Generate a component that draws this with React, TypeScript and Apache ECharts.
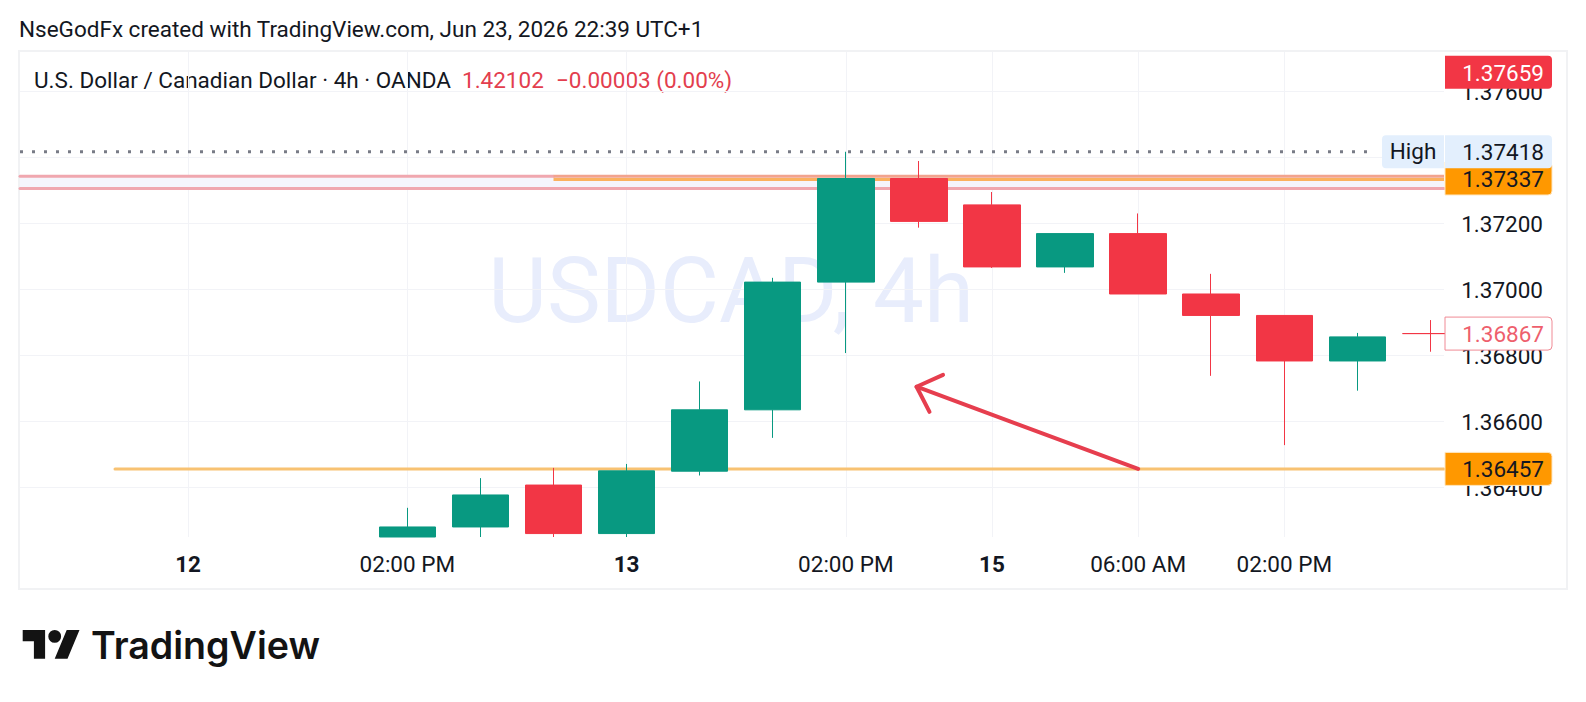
import React, { useEffect, useRef } from "react";
import * as echarts from "echarts";

const FONT = "Roboto";
const UP = "#089981";
const DOWN = "#f23645";
const LEGEND_RED = "#e33e4e";
const TEXT = "#131722";

const X_MIN = -5.3;
const X_MAX = 14.185;
const Y_MIN = 1.362506;
const Y_MAX = 1.377203;

// candle index on the x scale: 0 = first visible candle
const candleIndex = [0, 1, 2, 3, 4, 5, 6, 7, 8, 9, 10, 11, 12, 13, 14];
const opens = [Y_MIN, 1.36281, 1.36408, 1.36261, 1.3645, 1.36636, 1.37023, 1.37337, 1.37257, 1.37069, 1.3717, 1.36987, 1.36922, 1.36784, 1.36867];
const closes = [1.36281, 1.36378, 1.36261, 1.36451, 1.36636, 1.37023, 1.37337, 1.37207, 1.37069, 1.3717, 1.36987, 1.36922, 1.36784, 1.36857, 1.36867];
const lows = [Y_MIN, Y_MIN, Y_MIN, Y_MIN, 1.36437, 1.36551, 1.36808, 1.37188, 1.37066, 1.37051, 1.36987, 1.36739, 1.36529, 1.36694, 1.36812];
const highs = [1.36339, 1.36429, 1.3646, 1.36472, 1.36722, 1.37036, 1.37418, 1.3739, 1.37296, 1.3717, 1.37231, 1.37048, 1.36922, 1.36869, 1.36908];

const xTickValues = [-3, 0, 3, 6, 8, 10, 12];
const xTickLabels = ["12", "02:00 PM", "13", "02:00 PM", "15", "06:00 AM", "02:00 PM"];
const xBoldLabels = ["12", "13", "15"];
const yTickValues = [1.364, 1.366, 1.368, 1.37, 1.372, 1.374, 1.376];

const highLevel = 1.37418;
const highLineEnd = 13.24;
const resistanceUpper = 1.37344;
const resistanceLower = 1.37307;
const orangeTop = { from: 2, level: 1.37334 };
const orangeBottom = { from: -4, level: 1.36457 };
const arrowShaft = [[10, 1.36457], [6.968, 1.36706]];
const arrowHeadA = [[7.33, 1.36742], [6.968, 1.36706], [7.145, 1.3663]];

const tagValues = [1.37659, 1.37337, 1.36457, 1.36867, 1.37418];
const tagTexts = ["1.37659", "1.37337", "1.36457", "1.36867", "1.37418"];
const tagFills = [DOWN, "#ff9800", "#ff9800", "#ffffff", "#e3effd"];
const tagStrokes = ["none", "#ffe6bf", "#ffe6bf", "#f08a95", "none"];
const tagColors = ["#ffffff", TEXT, TEXT, "#ee5f6d", TEXT];

const LOGO_D = "M14 22H7V11H0V4h14v18zM28 22h-8l7.5-18h8L28 22zM24 8a4 4 0 1 1-8 0 4 4 0 0 1 8 0z";

export default function App() {
  const ref = useRef<HTMLDivElement>(null);
  useEffect(() => {
    document.body.style.margin = "0";
    document.body.style.background = "#ffffff";
    echarts.graphic.registerShape("tvlogo", echarts.graphic.extendPath(LOGO_D as any, {}) as any);
    const chart = echarts.init(ref.current!, undefined, { renderer: "svg" });
    const candleData = candleIndex.map((x, i) => {
      const doji = opens[i] === closes[i];
      return doji
        ? {
            value: [x, opens[i], closes[i], lows[i], highs[i]],
            itemStyle: { color: DOWN, color0: DOWN, borderColor: DOWN, borderColor0: DOWN, borderColorDoji: DOWN },
          }
        : { value: [x, opens[i], closes[i], lows[i], highs[i]] };
    });
    const lineSeries = (data: number[][], color: string, width: number, z: number, extra: any = {}) => ({
      type: "line",
      data,
      z,
      silent: true,
      showSymbol: false,
      symbol: "none",
      lineStyle: { color, width, cap: "round", join: "round", ...(extra.lineStyle || {}) },
      ...(extra.markArea ? { markArea: extra.markArea } : {}),
    });
    chart.setOption({
      animation: false,
      backgroundColor: "#ffffff",
      textStyle: { fontFamily: FONT },
      grid: { left: 20, top: 52, width: 1424, height: 485, containLabel: false },
      xAxis: {
        type: "value",
        min: X_MIN,
        max: X_MAX,
        axisLine: { show: false },
        axisTick: { show: false, customValues: xTickValues },
        splitLine: { show: true, lineStyle: { color: "#f2f3f7", width: 1 } },
        axisLabel: {
          customValues: xTickValues,
          margin: 15,
          fontFamily: FONT,
          fontSize: 22.5,
          color: TEXT,
          hideOverlap: false,
          showMinLabel: true,
          showMaxLabel: true,
          formatter: (v: number) => {
            const t = xTickLabels[xTickValues.indexOf(Math.round(v))] ?? "";
            return xBoldLabels.includes(t) ? `{b|${t}}` : t;
          },
          rich: { b: { fontFamily: FONT, fontSize: 22.5, fontWeight: 700, color: TEXT } },
        },
      },
      yAxis: {
        type: "value",
        position: "right",
        min: Y_MIN,
        max: Y_MAX,
        scale: true,
        axisLine: { show: false },
        axisTick: { show: false, customValues: yTickValues },
        splitLine: { show: true, lineStyle: { color: "#f2f3f7", width: 1 } },
        axisLabel: {
          customValues: yTickValues,
          inside: false,
          margin: 99,
          align: "right",
          padding: [2, 0, 0, 0],
          fontFamily: FONT,
          fontSize: 22.5,
          color: TEXT,
          formatter: (v: number) => v.toFixed(5),
        },
      },
      series: [
        lineSeries([[X_MIN, resistanceUpper], [orangeTop.from, resistanceUpper]], "#f0a7af", 3, 1, {
          markArea: {
            silent: true,
            itemStyle: { color: "#f5f5fc" },
            data: [[{ xAxis: X_MIN, yAxis: resistanceUpper }, { xAxis: X_MAX, yAxis: resistanceLower }]],
          },
        }),
        lineSeries([[X_MIN, resistanceLower], [X_MAX, resistanceLower]], "#f0a7af", 3, 1),
        lineSeries([[X_MIN, highLevel], [highLineEnd, highLevel]], "#787b86", 3, 1, {
          lineStyle: { type: [3, 9], cap: "butt" },
        }),
        lineSeries([[orangeTop.from, orangeTop.level], [X_MAX, orangeTop.level]], "#fbb15f", 3, 3, {
          lineStyle: { cap: "butt" },
        }),
        lineSeries([[orangeTop.from, resistanceUpper], [X_MAX, resistanceUpper]], "#f2a38e", 3, 3, {
          lineStyle: { cap: "butt" },
        }),
        lineSeries([[orangeBottom.from, orangeBottom.level], [X_MAX, orangeBottom.level]], "#f8c272", 3, 3),
        {
          type: "candlestick",
          z: 5,
          silent: true,
          clip: true,
          barWidth: 57,
          data: candleData,
          itemStyle: {
            color: UP,
            color0: DOWN,
            borderColor: UP,
            borderColor0: DOWN,
            borderWidth: 1,
          },
        },
        lineSeries(arrowShaft, "#e63e4e", 4, 6),
        lineSeries(arrowHeadA, "#e63e4e", 4, 6),
        {
          type: "custom",
          z: 10,
          silent: true,
          clip: false,
          coordinateSystem: "cartesian2d",
          encode: { x: 0, y: 1 },
          data: tagValues.map((v, i) => [X_MAX, v, i]),
          renderItem: (_p: any, api: any) => {
            const i = api.value(2);
            const c = api.coord([api.value(0), api.value(1)]);
            const h = 33;
            const children: any[] = [];
            if (tagTexts[i] === "1.37418") {
              children.push({
                type: "rect",
                shape: { x: 1382, y: c[1] - h / 2, width: 62, height: h, r: [4, 0, 0, 4] },
                style: { fill: tagFills[i] },
              });
              children.push({
                type: "text",
                style: {
                  text: "High",
                  x: 1413,
                  y: c[1] - 1,
                  fill: TEXT,
                  font: `22.5px ${FONT}`,
                  textAlign: "center",
                  textVerticalAlign: "middle",
                },
              });
            }
            children.push({
              type: "rect",
              shape: { x: 1445, y: c[1] - h / 2, width: 107, height: h, r: [0, 4, 4, 0] },
              style: { fill: tagFills[i], stroke: tagStrokes[i], lineWidth: 1 },
            });
            children.push({
              type: "text",
              style: {
                text: tagTexts[i],
                x: 1544,
                y: c[1] + 0.5,
                fill: tagColors[i],
                font: `22.5px ${FONT}`,
                textAlign: "right",
                textVerticalAlign: "middle",
              },
            });
            return { type: "group", children };
          },
        },
      ],
      graphic: [
        {
          type: "rect",
          z: -2,
          silent: true,
          shape: { x: 19, y: 51, width: 1548, height: 538 },
          style: { fill: "none", stroke: "#f1f2f4", lineWidth: 2 },
        },
        {
          type: "text",
          z: -1,
          x: 731,
          y: 291,
          style: {
            text: "USDCAD, 4h",
            font: `90.5px ${FONT}`,
            fill: "#e8edfc",
            textAlign: "center",
            textVerticalAlign: "middle",
          },
        },
        {
          type: "text",
          x: 19,
          y: 29,
          style: {
            text: "NseGodFx created with TradingView.com, Jun 23, 2026 22:39 UTC+1",
            font: `22.5px ${FONT}`,
            fill: TEXT,
            textVerticalAlign: "middle",
          },
        },
        {
          type: "text",
          x: 34,
          y: 80,
          style: {
            text: "U.S. Dollar / Canadian Dollar · 4h · OANDA",
            font: `22.5px ${FONT}`,
            fill: TEXT,
            textVerticalAlign: "middle",
          },
        },
        {
          type: "text",
          x: 462,
          y: 80,
          style: {
            text: "1.42102",
            font: `22.5px ${FONT}`,
            fill: LEGEND_RED,
            textVerticalAlign: "middle",
          },
        },
        {
          type: "text",
          x: 556,
          y: 80,
          style: {
            text: "−0.00003 (0.00%)",
            font: `22.5px ${FONT}`,
            fill: LEGEND_RED,
            textVerticalAlign: "middle",
          },
        },
        {
          type: "tvlogo",
          x: 22.7,
          y: 623.6,
          scaleX: 1.6,
          scaleY: 1.6,
          style: { fill: "#131313" },
        },
        {
          type: "text",
          x: 91,
          y: 645,
          style: {
            text: "TradingView",
            font: `600 37.6px Inter`,
            fill: "#131313",
            textVerticalAlign: "middle",
          },
        },
      ],
    });
    return () => chart.dispose();
  }, []);
  return <div ref={ref} style={{ width: 1586, height: 702 }} />;
}
